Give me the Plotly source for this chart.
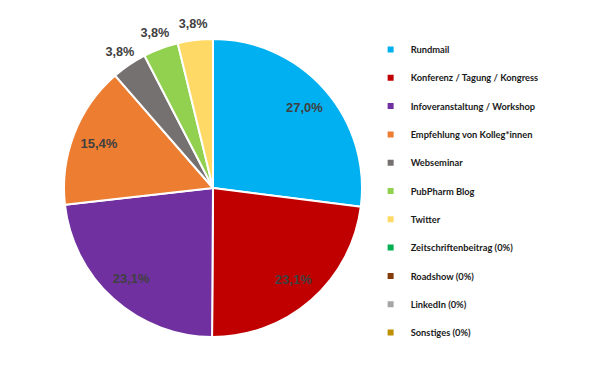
import plotly.graph_objects as go

labels = ["Rundmail", "Konferenz / Tagung / Kongress", "Infoveranstaltung / Workshop",
          "Empfehlung von Kolleg*innen", "Webseminar", "PubPharm Blog", "Twitter",
          "Zeitschriftenbeitrag (0%)", "Roadshow (0%)", "LinkedIn (0%)", "Sonstiges (0%)"]
values = [27.0, 23.1, 23.1, 15.4, 3.8, 3.8, 3.8, 0, 0, 0, 0]
colors = ["#00B0F0", "#C00000", "#7030A0", "#ED7D31", "#767171", "#92D050", "#FFD966",
          "#00B050", "#843C0C", "#A5A5A5", "#BF9000"]

texts = [("%.1f%%" % v).replace(".", ",") if v > 0 else "" for v in values]
big = [v >= 10 for v in values]
small = [0 < v < 10 for v in values]

W, H = 593, 375
cx, cy, R = 213, 188, 149


def domain(r):
    return dict(x=[(cx - r) / W, (cx + r) / W], y=[1 - (cy + r) / H, 1 - (cy - r) / H])


common = dict(labels=labels, values=values, sort=False, direction="clockwise", rotation=0,
              showlegend=False)
tfont = dict(family="Liberation Sans", size=13, color="#404040", weight="bold")
clear = dict(colors=["rgba(0,0,0,0)"] * len(values), line=dict(width=0))

fig = go.Figure()
# the pie itself
fig.add_trace(go.Pie(
    **common, textinfo="none",
    marker=dict(colors=colors, line=dict(color="white", width=2)),
    hoverinfo="label+percent", domain=domain(R),
))
# transparent ring carrying the labels of the large slices (inside end)
fig.add_trace(go.Pie(
    **common, text=texts, textinfo="text", hole=0.64,
    textposition=["inside" if b else "none" for b in big],
    insidetextorientation="horizontal", marker=clear,
    textfont=tfont, hoverinfo="skip", domain=domain(R),
))
# transparent outer ring carrying the labels of the small slices (outside end)
R2 = R * 1.22
fig.add_trace(go.Pie(
    **common, text=texts, textinfo="text", hole=R / R2,
    textposition=["inside" if s else "none" for s in small],
    insidetextorientation="horizontal", marker=clear,
    textfont=tfont, hoverinfo="skip", domain=domain(R2),
))
for lab, col in zip(labels, colors):
    fig.add_trace(go.Scatter(
        x=[None], y=[None], mode="markers", name=lab, legendgroup=lab,
        marker=dict(symbol="square", size=6, color=col), showlegend=True,
    ))

fig.update_layout(
    width=W, height=H, margin=dict(l=0, r=0, t=0, b=0),
    paper_bgcolor="white", plot_bgcolor="white",
    xaxis=dict(visible=False), yaxis=dict(visible=False),
    legend=dict(x=0.625, y=1 - 35 / H, xanchor="left", yanchor="top",
                font=dict(family="Lato", size=9.3, color="#1a1a1a", weight="bold"),
                tracegroupgap=9.3, itemwidth=30, bgcolor="rgba(0,0,0,0)"),
)
fig.write_html("out.html", config={"displayModeBar": False},
               post_script="document.body.style.margin='0';")
